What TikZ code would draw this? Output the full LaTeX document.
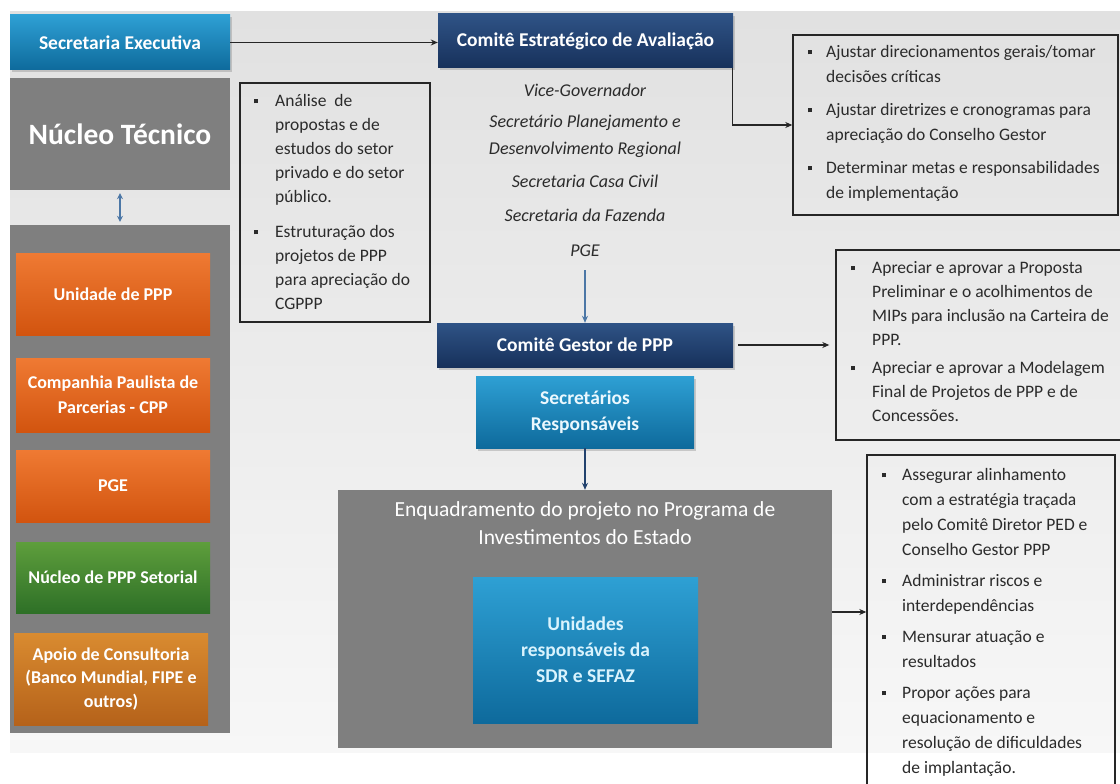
\documentclass[tikz,border=0pt]{standalone}
\usepackage{fontspec}
\setmainfont{Carlito}
\usetikzlibrary{shadows,arrows.meta}
\definecolor{bgA}{HTML}{E1E1E1}
\definecolor{bgB}{HTML}{F7F7F7}
\definecolor{blueT}{HTML}{2EA0D4}
\definecolor{blueB}{HTML}{0E6A9C}
\definecolor{navyT}{HTML}{2F5386}
\definecolor{navyB}{HTML}{17315B}
\definecolor{grayBox}{HTML}{7F7F7F}
\definecolor{oranT}{HTML}{EF7A33}
\definecolor{oranB}{HTML}{D2540F}
\definecolor{greenT}{HTML}{5E9E3C}
\definecolor{greenB}{HTML}{2E7027}
\definecolor{apoT}{HTML}{D98B30}
\definecolor{apoB}{HTML}{B5621A}
\definecolor{txt}{HTML}{2B2B2B}
\definecolor{arrBlue}{HTML}{4C77A6}
\definecolor{arrNavy}{HTML}{22426E}
\newcommand\mybul[1]{\makebox[#1][l]{\raisebox{3pt}{\rule{4pt}{4pt}}}}
\newcommand\myind[1]{\hspace*{#1}}
\begin{document}
\begin{tikzpicture}[x=1pt,y=-1pt,
  shadowed/.style={drop shadow={shadow xshift=2pt,shadow yshift=-2.5pt,opacity=.35}},
  boxbase/.style={inner sep=2pt,align=center,text=white,font=\bfseries\fontsize{19.5}{26}\selectfont},
  bluebox/.style={boxbase,top color=blueT,bottom color=blueB,shadowed},
  navybox/.style={boxbase,top color=navyT,bottom color=navyB,shadowed},
  orangebox/.style={boxbase,top color=oranT,bottom color=oranB,shadowed,font=\bfseries\fontsize{18}{25}\selectfont},
  greenbox/.style={orangebox,top color=greenT,bottom color=greenB},
  apoiobox/.style={orangebox,top color=apoT,bottom color=apoB},
  graybox/.style={fill=grayBox,inner sep=0},
  notebox/.style={draw=black!85,line width=1.4pt,inner sep=0},
  notetext/.style={anchor=north west,inner sep=0,align=left,text=txt,font=\fontsize{17.5}{24}\selectfont},
  conn/.style={draw=black!85,line width=1.2pt,-{Stealth[length=7pt,width=6pt]}},
  blueconn/.style={draw=arrBlue,line width=1.3pt,-{Stealth[length=7pt,width=6pt]}},
  navyconn/.style={draw=arrNavy,line width=1.3pt,-{Stealth[length=7pt,width=6pt]}},
  dblconn/.style={draw=arrBlue,line width=1.8pt,{Stealth[length=6pt,width=6pt]}-{Stealth[length=6pt,width=6pt]}}
]
\useasboundingbox (0,0) rectangle (1120,784);
\fill[white] (0,0) rectangle (1120,784);
\shade[top color=bgA,bottom color=bgB] (10,12) rectangle (1120,752);

% left column
\node[bluebox,minimum width=220pt,minimum height=55pt] (secex) at (120,42.5) {Secretaria Executiva};
\node[graybox,minimum width=220pt,minimum height=112pt,text=white,font=\bfseries\fontsize{29.5}{32}\selectfont] (nucleo) at (120,134) {Núcleo Técnico};
\node[graybox,minimum width=220pt,minimum height=508pt] (leftcol) at (120,479) {};
\node[orangebox,minimum width=194pt,minimum height=82pt] (unid) at (113,294) {Unidade de PPP};
\node[orangebox,minimum width=194pt,minimum height=74pt] (cpp) at (113,395) {Companhia Paulista de\\Parcerias - CPP};
\node[orangebox,minimum width=194pt,minimum height=72pt] (pgeL) at (113,486) {PGE};
\node[greenbox,minimum width=194pt,minimum height=71pt] (setorial) at (113,577.5) {Núcleo de PPP Setorial};
\node[apoiobox,minimum width=194pt,minimum height=92pt,font=\bfseries\fontsize{18}{23.5}\selectfont] (apoio) at (111,679) {Apoio de Consultoria\\(Banco Mundial, FIPE e\\outros)};
\draw[dblconn] ([yshift=-3pt]nucleo.south) -- ([yshift=3pt]leftcol.north);

% analise box
\node[notebox,minimum width=190pt,minimum height=239pt] (analise) at (335,202.5) {};
\node[notetext] (analiset) at (254,94) {\mybul{21pt}Análise\ \ de\\
\myind{21pt}propostas e de\\
\myind{21pt}estudos do setor\\
\myind{21pt}privado e do setor\\
\myind{21pt}público.\\[11pt]
\mybul{21pt}Estruturação dos\\
\myind{21pt}projetos de PPP\\
\myind{21pt}para apreciação do\\
\myind{21pt}CGPPP};

% center column
\node[navybox,minimum width=295pt,minimum height=54pt] (cea) at (585.5,41) {Comitê Estratégico de Avaliação};
\node[anchor=north,inner sep=0,align=center,text=txt,font=\itshape\fontsize{18}{27}\selectfont] (members) at (585,84) {Vice-Governador\\[4pt]
Secretário Planejamento e\\
Desenvolvimento Regional\\[6pt]
Secretaria Casa Civil\\[7pt]
Secretaria da Fazenda\\[8pt]
PGE};
\coordinate (pgeEnd) at (585,270);
\node[navybox,minimum width=296pt,minimum height=44pt] (cgp) at (585,345) {Comitê Gestor de PPP};
\node[bluebox,minimum width=218pt,minimum height=72pt,text=white!92!cyan] (secr) at (585,412) {Secretários\\Responsáveis};
\node[graybox,minimum width=494pt,minimum height=258pt] (enq) at (585,619) {};
\node[anchor=north,inner sep=0,align=center,text=white,font=\fontsize{21.5}{28}\selectfont] (enqt) at (585,501) {Enquadramento do projeto no Programa de\\Investimentos do Estado};
\node[bluebox,minimum width=225pt,minimum height=146pt,text=white!85!cyan,font=\bfseries\fontsize{19.5}{26}\selectfont] (unidr) at (585.5,650) {Unidades\\responsáveis da\\SDR e SEFAZ};

% right notes
\node[notebox,minimum width=325pt,minimum height=180pt] (rb1) at (955.5,125) {};
\node[notetext,font=\fontsize{17.5}{25}\selectfont] (rb1t) at (808,45) {\mybul{18pt}Ajustar direcionamentos gerais/tomar\\
\myind{18pt}decisões críticas\\[8pt]
\mybul{18pt}Ajustar diretrizes e cronogramas para\\
\myind{18pt}apreciação do Conselho Gestor\\[8pt]
\mybul{18pt}Determinar metas e responsabilidades\\
\myind{18pt}de implementação};
\node[notebox,minimum width=289pt,minimum height=190pt] (rb2) at (980.5,345) {};
\node[notetext] (rb2t) at (851,261) {\mybul{21pt}Apreciar e aprovar a Proposta\\
\myind{21pt}Preliminar e o acolhimentos de\\
\myind{21pt}MIPs para inclusão na Carteira de\\
\myind{21pt}PPP.\\[4pt]
\mybul{21pt}Apreciar e aprovar a Modelagem\\
\myind{21pt}Final de Projetos de PPP e de\\
\myind{21pt}Concessões.};
\node[notebox,minimum width=248pt,minimum height=345pt] (rb3) at (991,627.5) {};
\node[notetext,font=\fontsize{17.5}{25}\selectfont] (rb3t) at (882,468) {\mybul{20pt}Assegurar alinhamento\\
\myind{20pt}com a estratégia traçada\\
\myind{20pt}pelo Comitê Diretor PED e\\
\myind{20pt}Conselho Gestor PPP\\[6pt]
\mybul{20pt}Administrar riscos e\\
\myind{20pt}interdependências\\[6pt]
\mybul{20pt}Mensurar atuação e\\
\myind{20pt}resultados\\[6pt]
\mybul{20pt}Propor ações para\\
\myind{20pt}equacionamento e\\
\myind{20pt}resolução de dificuldades\\
\myind{20pt}de implantação.};

% connectors
\draw[conn] (secex.east) -- (secex.east -| cea.west);
\draw[conn] ([xshift=-1pt]cea.south east) |- (rb1.west);
\draw[blueconn] (pgeEnd) -- (pgeEnd |- cgp.north);
\draw[conn,shorten >=6pt] ([xshift=5pt]cgp.east) -- (cgp.east -| rb2.west);
\draw[navyconn] (secr.south) -- (secr.south |- enq.north);
\draw[conn] ([yshift=7pt]enq.east) -- ([yshift=7pt]enq.east -| rb3.west);
\end{tikzpicture}
\end{document}
